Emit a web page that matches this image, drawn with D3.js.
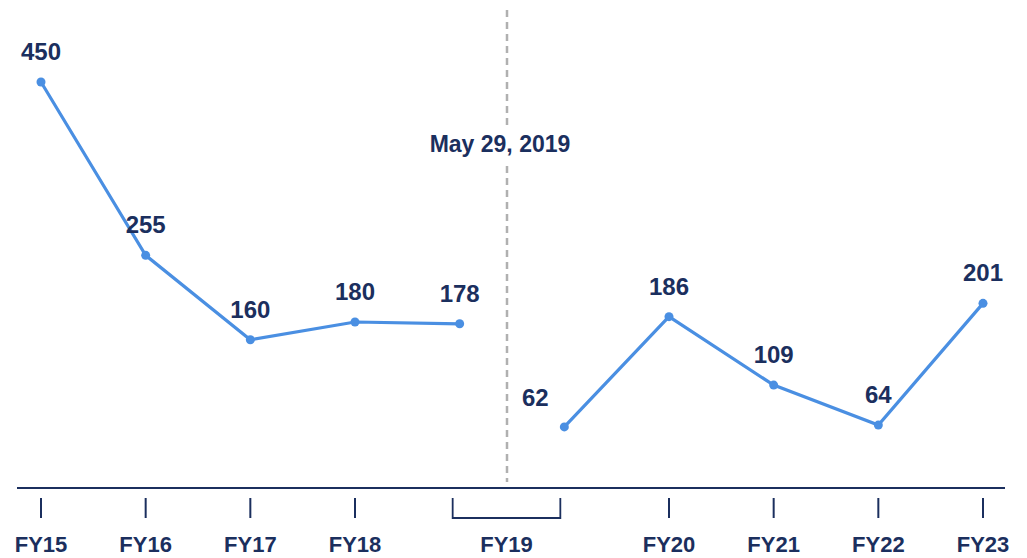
<!DOCTYPE html>
<html>
<head>
<meta charset="utf-8" />
<title>FY line chart</title>
<script src="https://d3js.org/d3.v7.min.js"></script>
<style>
  body { margin: 0; background: #fff; }
  svg { display: block; font-family: "Liberation Sans", Arial, sans-serif; }
</style>
</head>
<body>
<div id="chart"></div>
<script>
// slots along the axis (FY19 takes two: before and after the date)
const slots = ["FY15", "FY16", "FY17", "FY18", "FY19a", "FY19b", "FY20", "FY21", "FY22", "FY23"];
const values = [450, 255, 160, 180, 178, 62, 186, 109, 64, 201];
const tickLabels = ["FY15", "FY16", "FY17", "FY18", "FY20", "FY21", "FY22", "FY23"];
const bracketLabel = "FY19";
const eventLabel = "May 29, 2019";

const width = 1027;
const height = 558;
const navy = "#1b2f5e";
const blue = "#4a8fe2";

const svg = d3.select("#chart")
  .append("svg")
  .attr("width", width)
  .attr("height", height);

const x = d3.scalePoint()
  .domain(slots)
  .range([41, 983]);

const y = d3.scaleLinear()
  .domain([0, 450])
  .range([482, 82]);

const pts = slots.map((s, i) => ({ slot: s, value: values[i] }));
const before = pts.slice(0, 5);
const after = pts.slice(5);

// dashed divider
const midX = (x("FY19a") + x("FY19b")) / 2 - 5;
svg.append("line")
  .attr("x1", midX).attr("x2", midX)
  .attr("y1", 10).attr("y2", 482)
  .attr("stroke", "#b0b0b0")
  .attr("stroke-width", 2.5)
  .attr("stroke-dasharray", "7,5");

svg.append("rect")
  .attr("x", midX - 80).attr("y", 126)
  .attr("width", 160).attr("height", 38)
  .attr("fill", "#fff");

svg.append("text")
  .attr("x", midX - 7).attr("y", 152)
  .attr("text-anchor", "middle")
  .attr("font-size", 23)
  .attr("font-weight", "bold")
  .attr("fill", navy)
  .text(eventLabel);

// axis line
svg.append("line")
  .attr("x1", 17).attr("x2", 1005)
  .attr("y1", 488).attr("y2", 488)
  .attr("stroke", navy)
  .attr("stroke-width", 2);

// ticks
const tickSlots = slots.filter(s => !s.startsWith("FY19"));
svg.append("g")
  .selectAll("line")
  .data(tickSlots)
  .join("line")
  .attr("x1", d => x(d)).attr("x2", d => x(d))
  .attr("y1", 498).attr("y2", 518)
  .attr("stroke", navy)
  .attr("stroke-width", 2);

svg.append("g")
  .selectAll("text")
  .data(tickSlots)
  .join("text")
  .attr("x", d => x(d))
  .attr("y", 552)
  .attr("text-anchor", "middle")
  .attr("font-size", 22)
  .attr("font-weight", "bold")
  .attr("fill", navy)
  .text((d, i) => tickLabels[i]);

// FY19 bracket
const bx0 = x("FY19a") - 7, bx1 = x("FY19b") - 4;
svg.append("path")
  .attr("d", `M${bx0},498V518H${bx1}V498`)
  .attr("fill", "none")
  .attr("stroke", navy)
  .attr("stroke-width", 1.8);

svg.append("text")
  .attr("x", (bx0 + bx1) / 2)
  .attr("y", 552)
  .attr("text-anchor", "middle")
  .attr("font-size", 22)
  .attr("font-weight", "bold")
  .attr("fill", navy)
  .text(bracketLabel);

// lines
const line = d3.line()
  .x(d => x(d.slot))
  .y(d => y(d.value));

[before, after].forEach(seg => {
  svg.append("path")
    .datum(seg)
    .attr("d", line)
    .attr("fill", "none")
    .attr("stroke", blue)
    .attr("stroke-width", 3.2);
});

svg.append("g")
  .selectAll("circle")
  .data(pts)
  .join("circle")
  .attr("cx", d => x(d.slot))
  .attr("cy", d => y(d.value))
  .attr("r", 4.5)
  .attr("fill", blue);

// value labels
svg.append("g")
  .selectAll("text")
  .data(pts)
  .join("text")
  .attr("x", d => x(d.slot) + (d.slot === "FY19b" ? -29 : 0))
  .attr("y", d => y(d.value) - (d.slot === "FY19b" ? 21 : 22))
  .attr("text-anchor", "middle")
  .attr("font-size", 24)
  .attr("font-weight", "bold")
  .attr("fill", navy)
  .text(d => d.value);
</script>
</body>
</html>
